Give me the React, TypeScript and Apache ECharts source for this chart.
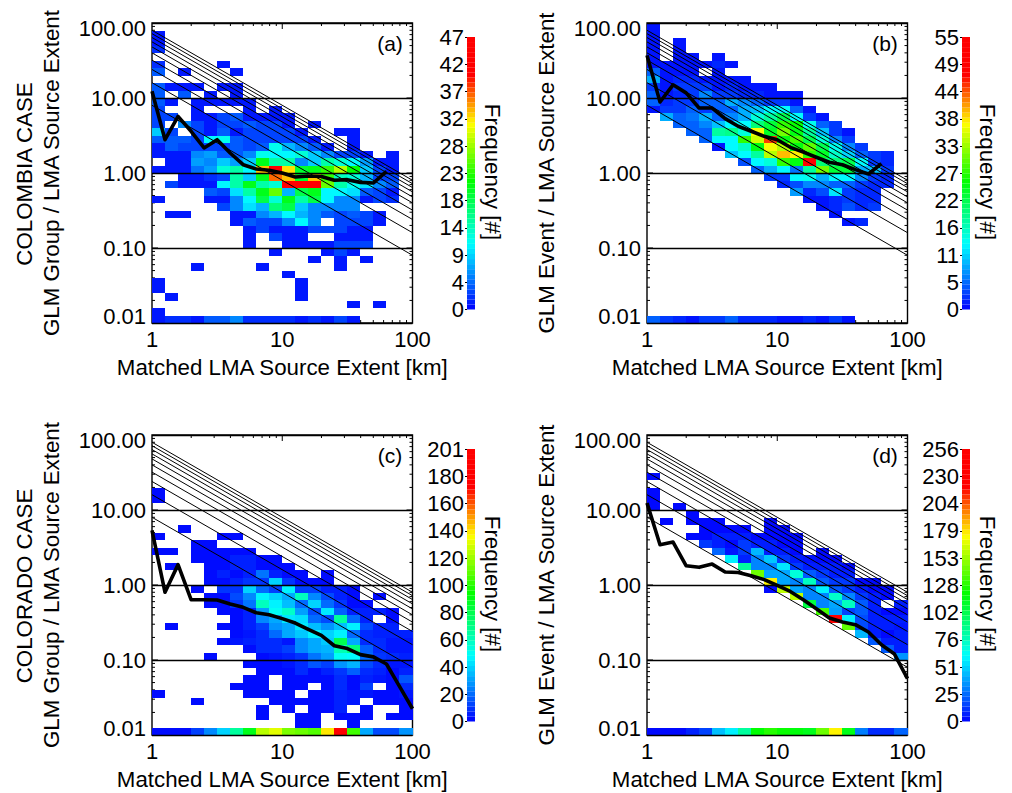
import React, { useEffect, useRef } from "react";
import * as echarts from "echarts";

const FONT = "Liberation Sans";

// Frequency per cell; first row is the top of the plot, columns run left to right.
const gridA: number[][] = [
  [], [1], [1], [2], [],
  [2,0,0,0,0,1],
  [4,0,1,0,0,0,1],
  [],
  [4,1,1,1,0,1,1],
  [4,0,4,0,1,0,1],
  [4,1,0,1,1,1,1,1],
  [3,0,0,1,0,0,0,1,0,1],
  [3,3,0,1,1,3,4,1,1,1,1],
  [3,0,6,3,1,3,3,4,3,3,1,0,1],
  [9,3,0,3,1,4,1,3,3,3,3,1,0,0,1,1],
  [4,4,4,3,11,12,4,3,3,3,3,3,1,0,0,1],
  [1,4,3,3,3,3,4,3,4,12,8,6,4,1,0,1],
  [1,1,1,6,7,4,4,6,12,11,11,13,9,6,3,3,1,0,1],
  [0,1,1,7,6,9,7,9,21,15,15,6,9,15,13,11,7,1,1],
  [1,1,1,5,7,13,15,11,34,44,33,20,21,24,29,22,9,3,1],
  [0,0,1,1,2,3,15,9,21,37,34,20,34,24,14,13,8,3,3],
  [0,3,1,1,1,11,15,21,15,13,44,44,44,26,15,12,10,6,4],
  [0,0,0,0,4,3,10,15,21,26,8,19,21,11,11,10,4,3,1],
  [1,0,0,0,1,1,6,11,19,13,21,15,19,11,6,6,1,3,2],
  [0,0,0,0,0,3,6,10,8,17,19,9,6,6,6,6],
  [0,1,1,0,0,0,1,1,6,8,11,8,6,4,3,4,3,1],
  [0,0,0,0,0,0,1,4,3,3,6,11,6,0,3,3,3,1],
  [0,0,0,0,0,0,0,1,3,1,1,1,3,3,3,1,1],
  [0,0,0,0,0,0,0,1,0,3,1,1,0,0,1,1,1],
  [0,0,0,0,0,0,0,1,0,0,1,1,1,1,3,3,3],
  [0,0,0,0,0,0,0,0,0,1,0,0,0,1,3,1],
  [0,0,0,0,0,0,0,0,0,0,0,0,1,0,1,0,1],
  [0,0,0,1,0,0,0,0,1,0,0,0,0,0,1],
  [0,0,0,0,0,0,0,0,0,0,1],
  [1,0,0,0,0,0,0,0,0,0,0,1],
  [1,0,0,0,0,0,0,0,0,0,0,1],
  [0,1,0,0,0,0,0,0,0,0,0,1],
  [0,0,0,0,0,0,0,0,0,0,0,0,0,0,0,1,0,1],
  [1],
  [1,2,2,1,4,4,6,2,2,2,2,1,2,1,3,1],
];

const gridB: number[][] = [
  [1], [1],
  [1,0,1],
  [1,0,1],
  [1,0,1,1,0,1],
  [1,1,1,1,1,2,1],
  [5,1,1,1,0,1],
  [9,1,2,2,1,1,1,1],
  [3,1,3,3,3,1,2,1,1,1],
  [5,1,2,3,7,3,3,2,2,1,1,1],
  [5,2,3,3,5,5,9,7,5,3,3,1],
  [1,3,3,5,3,5,5,9,10,13,13,5,1],
  [0,9,5,6,9,5,7,9,15,18,22,13,3,1],
  [0,0,5,5,7,10,13,13,20,23,28,26,14,5,3],
  [0,0,0,5,5,18,19,15,37,24,31,25,18,10,3,1],
  [0,0,0,0,5,13,13,28,35,45,25,29,22,15,7,3],
  [0,0,0,0,0,1,13,16,25,37,34,25,30,22,14,7,3],
  [0,0,0,0,0,0,10,13,18,34,40,38,28,24,16,11,5,3,2],
  [0,0,0,0,0,0,0,4,13,15,28,25,51,20,20,22,13,3,2],
  [0,0,0,0,0,0,0,0,5,9,13,6,18,31,23,23,9,10,3],
  [0,0,0,0,0,0,0,0,0,3,3,13,14,9,13,13,7,3,2],
  [0,0,0,0,0,0,0,0,0,0,2,4,7,7,5,5,3,2,2],
  [0,0,0,0,0,0,0,0,0,0,0,8,2,4,12,3,2,2],
  [0,0,0,0,0,0,0,0,0,0,0,0,1,1,2,3,2,2],
  [0,0,0,0,0,0,0,0,0,0,0,0,0,1,2,4,2,3],
  [0,0,0,0,0,0,0,0,0,0,0,0,0,0,1],
  [0,0,0,0,0,0,0,0,0,0,0,0,0,0,0,1,2],
  [], [], [], [], [], [], [], [], [], [], [], [],
  [5,3,2,1,3,3,5,2,2,2,1,1,2,1,3,1],
];

const gridC: number[][] = [
  [], [], [], [], [], [], [],
  [2], [2], [], [], [],
  [0,0,2],
  [2,0,0,0,0,2,2],
  [0,0,0,2,2],
  [2,2,0,2,2,2,2,2],
  [0,0,0,2,2,2,6,6,2,2],
  [0,2,0,0,2,2,6,6,2,2,2],
  [0,0,0,0,2,6,2,6,22,6,2,2,0,2],
  [0,0,0,0,2,2,6,10,10,40,10,2,2,2],
  [0,0,0,2,0,10,10,40,20,12,46,12,12,6,6,2],
  [0,0,0,0,2,2,14,26,46,40,32,60,26,14,6,2,0,2],
  [0,0,0,0,2,2,10,22,60,46,36,20,40,20,10,2,2],
  [0,0,0,0,0,2,2,6,30,50,58,30,14,44,18,6,6,6,2],
  [0,0,0,0,0,0,2,6,26,32,44,42,20,14,66,20,6,0,2],
  [0,2,0,0,0,2,2,6,12,28,32,44,36,28,36,46,14,6,6],
  [0,0,0,0,0,0,2,4,8,20,32,38,46,40,46,20,8,6,6,6],
  [0,0,0,0,0,2,4,6,8,8,4,26,32,38,80,32,8,8,4,4],
  [0,0,0,0,0,0,0,2,8,8,12,26,32,34,62,72,18,8,4,4],
  [0,0,0,0,2,0,0,0,2,4,6,10,22,30,50,48,20,10,8,6],
  [0,0,0,0,0,0,0,2,2,2,4,8,16,12,28,34,14,8,4,4],
  [0,0,0,0,0,0,0,0,2,2,2,8,2,6,10,18,8,6,2,6],
  [0,0,0,0,0,0,0,2,2,0,2,2,2,2,8,2,6,4,2,16],
  [0,0,0,0,0,0,2,2,2,0,2,2,0,2,8,2,12,0,2,8],
  [2,0,0,0,0,0,0,2,2,2,2,0,2,2,6,4,4,2,2,4],
  [0,0,0,2,0,0,0,0,0,2,2,2,2,2,6,4,0,2,2,2],
  [0,0,0,0,0,0,0,0,2,0,2,0,2,2,6,0,2,0,0,2],
  [0,0,0,0,0,0,0,0,2,0,0,2,2,0,2,2,2,0,2,2],
  [0,0,0,0,0,0,0,0,0,0,0,2,2,0,0,2],
  [2,2,2,12,26,40,66,90,125,132,115,112,108,140,195,105,32,14,14,28],
];

const gridD: number[][] = [
  [], [], [], [], [],
  [2], [], [2], [2],
  [2,0,2],
  [0,0,0,2],
  [0,2,0,2,2,2,0,0,0,2],
  [0,0,0,0,2,2,2,2,0,2,2],
  [0,0,0,2,2,7,7,7,2,2,2,2],
  [0,0,0,0,14,7,2,14,7,7,2,2],
  [0,0,0,0,0,24,5,14,44,7,7,2,0,2],
  [0,0,0,0,0,0,58,8,32,48,14,7,4,2,2],
  [0,0,0,0,0,0,0,84,32,32,56,14,7,7,7,2],
  [0,0,0,0,0,0,0,0,143,40,40,70,22,14,7,7],
  [0,0,0,0,0,0,0,0,0,176,40,32,76,22,14,14,2,2],
  [0,0,0,0,0,0,0,0,0,2,160,40,32,58,22,14,7,2,2],
  [0,0,0,0,0,0,0,0,0,0,0,160,32,32,74,32,14,7,2],
  [0,0,0,0,0,0,0,0,0,0,0,0,105,32,40,76,22,7,0,7],
  [0,0,0,0,0,0,0,0,0,0,0,0,0,135,38,16,22,7,2,2],
  [0,0,0,0,0,0,0,0,0,0,0,0,0,0,240,58,18,7,7,7],
  [0,0,0,0,0,0,0,0,0,0,0,0,0,0,0,140,18,7,7,5],
  [0,0,0,0,0,0,0,0,0,0,0,0,0,0,0,0,44,7,2,7],
  [0,0,0,0,0,0,0,0,0,0,0,0,0,0,0,0,0,22,7,7],
  [0,0,0,0,0,0,0,0,0,0,0,0,0,0,0,0,0,0,22,7],
  [0,0,0,0,0,0,0,0,0,0,0,0,0,0,0,0,0,0,0,36],
  [], [], [], [], [], [], [], [], [],
  [2,2,2,8,16,46,58,84,120,128,122,118,114,143,176,115,30,10,10,24],
];

// Median ratio at successive bin edges.
const medianA = [12.3,2.78,5.7,3.6,2.16,2.78,1.85,1.29,1.13,1.09,1.0,0.885,0.912,0.9,0.8,0.815,0.75,0.736,1.05];
const medianB = [37,8.85,15,11.7,7.35,7.35,5.3,4.2,3.6,3.08,2.78,2.2,1.9,1.62,1.39,1.29,1.11,0.97,1.33];
const medianC = [5.36,0.8,1.87,0.637,0.637,0.63,0.558,0.504,0.427,0.402,0.356,0.311,0.256,0.213,0.155,0.142,0.118,0.11,0.0885,0.0446,0.0224];
const medianD = [12.4,3.45,3.74,1.81,1.72,1.9,1.49,1.47,1.33,1.18,0.99,0.82,0.637,0.483,0.363,0.321,0.296,0.236,0.16,0.12,0.0564];

const freqMaxima = [47, 55, 201, 256];
const diagonals = [8, 16, 24, 32, 40, 48, 56, 64, 72, 80];
const xMajor = [10];
const xMinor = [2, 3, 4, 5, 6, 7, 8, 9, 20, 30, 40, 50, 60, 70, 80, 90];
const yMajor = [0.1, 1, 10];
const yMinor = [
  0.02, 0.03, 0.04, 0.05, 0.06, 0.07, 0.08, 0.09,
  0.2, 0.3, 0.4, 0.5, 0.6, 0.7, 0.8, 0.9,
  2, 3, 4, 5, 6, 7, 8, 9,
  20, 30, 40, 50, 60, 70, 80, 90,
];
const letters = ["(a)", "(b)", "(c)", "(d)"];
const yTitles = [
  "GLM Group / LMA Source Extent",
  "GLM Event / LMA Source Extent",
  "GLM Group / LMA Source Extent",
  "GLM Event / LMA Source Extent",
];
const xTitle = "Matched LMA Source Extent [km]";
const caseTitles = ["COLOMBIA CASE", "COLORADO CASE"];
const freqTitle = "Frequency [#]";

const grids = [gridA, gridB, gridC, gridD];
const medians = [medianA, medianB, medianC, medianD];
const lefts = [152, 647, 152, 647];
const tops = [23, 23, 435, 435];
const BAND_COUNT = 54;

const STOPS: [number, number[]][] = [
  [0, [0, 0, 255]],
  [0.24, [0, 255, 255]],
  [0.47, [0, 255, 0]],
  [0.68, [255, 255, 0]],
  [0.86, [255, 0, 0]],
  [1, [255, 0, 0]],
];

function colourOf(f: number): string {
  for (let i = 1; i < STOPS.length; i++) {
    if (f <= STOPS[i][0]) {
      const [a, ca] = STOPS[i - 1];
      const [b, cb] = STOPS[i];
      const t = (f - a) / (b - a);
      const m = ca.map((v, k) => Math.round(v + (cb[k] - v) * t));
      return `rgb(${m[0]},${m[1]},${m[2]})`;
    }
  }
  return "rgb(255,0,0)";
}

function xEdge(i: number) {
  return Math.pow(10, i / 10);
}
function yEdge(r: number) {
  return Math.pow(10, -2 + r / 10);
}

function heatData(grid: number[][]) {
  const out: number[][] = [];
  grid.forEach((row, t) => {
    const r = 39 - t;
    row.forEach((v, c) => {
      if (v > 0) out.push([xEdge(c), yEdge(r), xEdge(c + 1), yEdge(r + 1), v]);
    });
  });
  return out;
}

function tickData() {
  const out: number[][] = [];
  xMajor.forEach((v) => out.push([v, 1, 0, 1]));
  xMinor.forEach((v) => out.push([v, 1, 0, 0]));
  yMajor.forEach((v) => out.push([1, v, 1, 1]));
  yMinor.forEach((v) => out.push([1, v, 1, 0]));
  return out;
}

function renderTick(params: any, api: any) {
  const cs = params.coordSys;
  const isY = api.value(2) === 1;
  const len = api.value(3) === 1 ? 6 : 3;
  const p = api.coord([api.value(0), api.value(1)]);
  const style = { stroke: "#000", lineWidth: 1 };
  const shapes = isY
    ? [
        { x1: cs.x, y1: p[1], x2: cs.x + len, y2: p[1] },
        { x1: cs.x + cs.width, y1: p[1], x2: cs.x + cs.width - len, y2: p[1] },
      ]
    : [
        { x1: p[0], y1: cs.y, x2: p[0], y2: cs.y + len },
        { x1: p[0], y1: cs.y + cs.height, x2: p[0], y2: cs.y + cs.height - len },
      ];
  return {
    type: "group",
    children: shapes.map((shape) => ({ type: "line", shape, style })),
  };
}

function buildOption() {
  const grid: any[] = [];
  const xAxis: any[] = [];
  const yAxis: any[] = [];
  const cbGrid: any[] = [];
  const cbX: any[] = [];
  const cbY: any[] = [];
  const series: any[] = [];
  const graphic: any[] = [];
  const textBase = { fontFamily: FONT, fontSize: 22.3, fill: "#000" };
  const tickFont = { fontFamily: FONT, fontSize: 22, color: "#000" };

  for (let i = 0; i < 4; i++) {
    const left = lefts[i];
    const top = tops[i];
    grid.push({
      left,
      top,
      width: 260.5,
      height: 300,
      show: true,
      borderColor: "#000",
      borderWidth: 1.4,
      backgroundColor: "transparent",
    });
    xAxis.push({
      type: "log",
      logBase: 10,
      gridIndex: i,
      min: 1,
      max: 100,
      name: xTitle,
      nameLocation: "middle",
      nameGap: 33,
      nameTextStyle: { fontFamily: FONT, fontSize: 22.3, color: "#000" },
      axisLine: { show: false },
      axisTick: { show: false },
      splitLine: { show: false },
      axisLabel: { ...tickFont, margin: 5, formatter: (v: number) => String(Math.round(v)) },
    });
    yAxis.push({
      type: "log",
      logBase: 10,
      gridIndex: i,
      min: 0.01,
      max: 100,
      z: 3,
      name: yTitles[i],
      nameLocation: "middle",
      nameGap: 90,
      nameTextStyle: { fontFamily: FONT, fontSize: 22.3, color: "#000" },
      axisLine: { show: false },
      axisTick: { show: false },
      splitLine: { show: true, lineStyle: { color: "#000", width: 1.4 } },
      axisLabel: {
        ...tickFont,
        margin: 6,
        rich: {
          top: { ...tickFont, padding: [10, 0, 0, 0] },
          bottom: { ...tickFont, padding: [0, 0, 14, 0] },
        },
        formatter: (v: number) => {
          const s = v.toFixed(2);
          if (s === "100.00") return `{top|${s}}`;
          if (s === "0.01") return `{bottom|${s}}`;
          return s;
        },
      },
    });

    series.push({
      type: "custom",
      xAxisIndex: i,
      yAxisIndex: i,
      z: 1,
      silent: true,
      encode: { x: 0, y: 1 },
      data: tickData(),
      renderItem: renderTick,
    });

    const maxF = freqMaxima[i];
    series.push({
      type: "custom",
      xAxisIndex: i,
      yAxisIndex: i,
      z: 2,
      silent: true,
      encode: { x: 0, y: 1 },
      data: heatData(grids[i]),
      renderItem: (_p: any, api: any) => {
        const a = api.coord([api.value(0), api.value(1)]);
        const b = api.coord([api.value(2), api.value(3)]);
        const x0 = Math.round(a[0]);
        const x1 = Math.round(b[0]);
        const y0 = Math.round(b[1]);
        const y1 = Math.round(a[1]);
        return {
          type: "rect",
          shape: { x: x0, y: y0, width: x1 - x0, height: y1 - y0 },
          style: { fill: colourOf(api.value(4) / maxF), stroke: null },
        };
      },
    });

    diagonals.forEach((k) => {
      series.push({
        type: "line",
        xAxisIndex: i,
        yAxisIndex: i,
        z: 4,
        silent: true,
        symbol: "none",
        lineStyle: { color: "#000", width: 1 },
        data: [
          [1, k],
          [100, k / 100],
        ],
      });
    });

    series.push({
      type: "line",
      xAxisIndex: i,
      yAxisIndex: i,
      z: 5,
      silent: true,
      symbol: "none",
      lineStyle: { color: "#000", width: 3.6, join: "round" },
      data: medians[i].map((v, k) => [xEdge(k), v]),
    });

    graphic.push({
      type: "text",
      x: left + 238,
      y: top + 20,
      z: 10,
      style: { ...textBase, text: letters[i], align: "center", verticalAlign: "middle", fontSize: 21 },
    });

    // colour bar
    const cbIndex = 4 + i;
    const cbLeft = left + 315;
    const cbTop = top + 14;
    cbGrid.push({ left: cbLeft, top: cbTop, width: 8, height: 272.5, show: false });
    cbX.push({ type: "value", gridIndex: cbIndex, min: 0, max: 1, show: false });
    cbY.push({
      type: "value",
      gridIndex: cbIndex,
      min: 0,
      max: maxF,
      interval: maxF / 10,
      axisLine: { show: false },
      splitLine: { show: false },
      axisTick: { show: true, length: 2, lineStyle: { color: "#000", width: 1 } },
      axisLabel: {
        ...tickFont,
        margin: 3,
        padding: [3, 0, 0, 0],
        formatter: (v: number) => String(Math.floor(v + 1e-6)),
      },
    });
    const bands: number[][] = [];
    for (let b = 0; b < BAND_COUNT; b++) {
      bands.push([0, (b / BAND_COUNT) * maxF, 1, ((b + 1) / BAND_COUNT) * maxF, (b + 0.5) / BAND_COUNT]);
    }
    series.push({
      type: "custom",
      xAxisIndex: cbIndex,
      yAxisIndex: cbIndex,
      silent: true,
      encode: { x: 0, y: 1 },
      data: bands,
      renderItem: (_p: any, api: any) => {
        const a = api.coord([api.value(0), api.value(1)]);
        const b = api.coord([api.value(2), api.value(3)]);
        return {
          type: "rect",
          shape: { x: a[0], y: b[1], width: b[0] - a[0], height: a[1] - b[1] },
          style: { fill: colourOf(api.value(4)), stroke: null },
        };
      },
    });

    graphic.push({
      type: "text",
      x: left + 340,
      y: top + 149,
      rotation: -Math.PI / 2,
      style: { ...textBase, text: freqTitle, align: "center", verticalAlign: "middle" },
    });
  }

  caseTitles.forEach((text, k) => {
    graphic.push({
      type: "text",
      x: 24,
      y: tops[k * 2] + 151,
      rotation: Math.PI / 2,
      style: { ...textBase, text, align: "center", verticalAlign: "middle" },
    });
  });

  return {
    animation: false,
    backgroundColor: "#fff",
    grid: grid.concat(cbGrid),
    xAxis: xAxis.concat(cbX),
    yAxis: yAxis.concat(cbY),
    series,
    graphic,
  };
}

export default function App() {
  const ref = useRef<HTMLDivElement>(null);
  useEffect(() => {
    const chart = echarts.init(ref.current as HTMLDivElement, undefined, { renderer: "svg" });
    chart.setOption(buildOption() as any);
    return () => chart.dispose();
  }, []);
  return <div ref={ref} style={{ position: "fixed", left: 0, top: 0, width: 1012, height: 793 }} />;
}
